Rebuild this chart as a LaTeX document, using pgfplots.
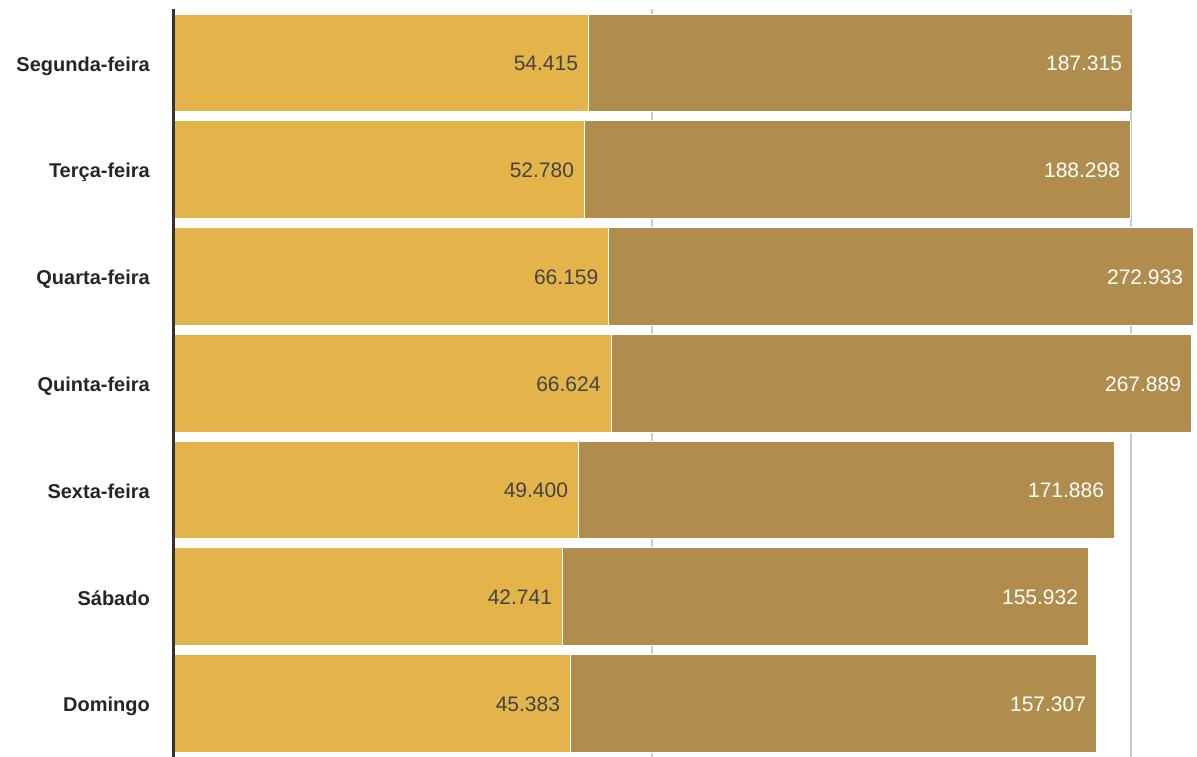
\documentclass[border=0pt]{standalone}
\usepackage{pgfplots}
\usepackage{pgfplotstable}
\pgfplotsset{compat=1.18}
\usepackage{fontspec}
\setmainfont{Liberation Sans}

\definecolor{barA}{HTML}{E4B44A}
\definecolor{barB}{HTML}{B18D4D}
\definecolor{valdark}{HTML}{444444}
\definecolor{catdark}{HTML}{262626}
\definecolor{gridgray}{HTML}{CCCCCC}
\definecolor{axisdark}{HTML}{333333}

% bar ends (px from the axis line), labels as printed
% e1 = end of first segment, e2 = end of whole bar
\pgfplotstableread{
idx e1    e2     l1     l2
0   415.5 959.5  54.415 187.315
1   411.5 957.5  52.780 188.298
2   435.8 1020.5 66.159 272.933
3   438.0 1018.5 66.624 267.889
4   405.5 941.5  49.400 171.886
5   389.5 915.5  42.741 155.932
6   397.5 923.5  45.383 157.307
}\days

\begin{document}
\begin{tikzpicture}
\begin{axis}[
    set layers,
    at={(173bp,0bp)}, anchor=south west,
    scale only axis,
    width=1024bp, height=747.5bp,
    xmin=0, xmax=1024,
    ymin=-0.5, ymax=6.5,
    y dir=reverse,
    xbar, bar shift=0pt,
    bar width=97.7bp,
    axis line style={draw=none},
    major tick length=0pt,
    xtick={479,958}, xticklabels={},
    xmajorgrids,
    grid style={draw=gridgray, line width=2bp},
    ytick={0,...,6},
    yticklabels={Segunda-feira,Terça-feira,Quarta-feira,Quinta-feira,Sexta-feira,Sábado,Domingo},
    yticklabel style={font=\fontsize{20bp}{24bp}\selectfont\bfseries, text=catdark,
        anchor=base east, inner sep=0pt, xshift=-23bp, yshift=-8.2bp},
    nodes near coords,
    point meta=explicit symbolic,
    every node near coord/.append style={anchor=base east, inner sep=0pt,
        xshift=-10bp, yshift=-7.8bp, font=\fontsize{21bp}{25bp}\selectfont},
    clip=false,
]
% whole bar first, first segment over it (its white edge makes the gap)
\addplot[fill=barB, draw=white, line width=1bp,
    every node near coord/.append style={text=white}]
    table[x=e2, y=idx, meta=l2] {\days};
\addplot[fill=barA, draw=white, line width=1bp,
    every node near coord/.append style={text=valdark}]
    table[x=e1, y=idx, meta=l1] {\days};
\begin{pgfonlayer}{axis foreground}
\draw[axisdark, line width=3bp] (rel axis cs:0,0) -- (rel axis cs:0,1);
\end{pgfonlayer}
\end{axis}
\pgfresetboundingbox
\path (0,0) rectangle (1197bp,757bp);
\end{tikzpicture}
\end{document}
